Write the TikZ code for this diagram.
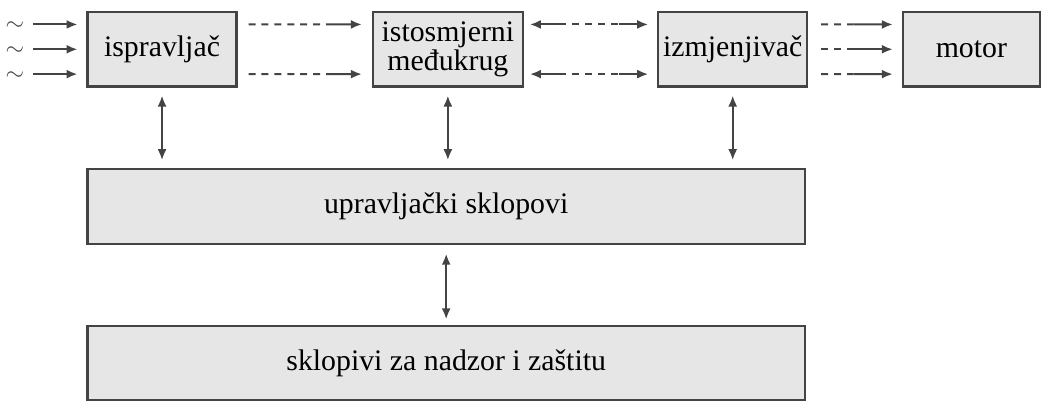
\documentclass[tikz,border=0pt]{standalone}
\usepackage{fontspec}
\setmainfont{Liberation Serif}
\usetikzlibrary{arrows.meta,positioning,calc}
\definecolor{boxgray}{HTML}{E6E6E6}
\definecolor{linegray}{HTML}{444444}
\tikzset{
    myblock/.style={rectangle, draw=linegray, fill=boxgray, line width=1.1pt, minimum height=37.5pt, inner sep=0pt, text centered, align=center, font=\fontsize{15}{13.5}\selectfont},
    myarrow/.style={-{Latex[length=5.5pt,width=4.5pt]}, line width=1pt, draw=linegray},
    mydarrow/.style={{Latex[length=5.5pt,width=4.5pt]}-{Latex[length=5.5pt,width=4.5pt]}, line width=1pt, draw=linegray},
    mydashed/.style={line width=1pt, draw=linegray, dash pattern=on 3.5pt off 3pt},
    mytilde/.style={inner sep=0pt, text height=6.5pt, text depth=0pt, text=linegray, font=\fontsize{13}{13}\selectfont}
}
\begin{document}
\begin{tikzpicture}[node distance=40.5pt]
\node[myblock, minimum width=75pt] (isp) {ispravljač};
\node[myblock, minimum width=75.5pt, right=67.5pt of isp] (ist) {istosmjerni\\međukrug};
\node[myblock, minimum width=75pt, right=67pt of ist] (izm) {izmjenjivač};
\node[myblock, minimum width=69pt, right=47pt of izm] (mot) {motor};

\node[myblock, minimum width=361pt, below=40.5pt of isp.south west, anchor=north west] (upr) {upravljački sklopovi};
\node[myblock, minimum width=361pt, minimum height=37pt, below=40.5pt of upr] (nad) {sklopivi za nadzor i zaštitu};

\useasboundingbox ([shift={(-43.5pt,5.5pt)}]isp.north west) rectangle ++(520.5pt,-199pt);

% ulazi
\foreach \dy [count=\i] in {12.5pt,0pt,-12.5pt} {
  \node[mytilde] (in\i) at ([xshift=-36pt,yshift=\dy]isp.west) {$\sim$};
  \draw[myarrow, shorten <=9pt, shorten >=4.5pt] (in\i.center) -- (in\i.center -| isp.west);
}

% ispravljac -> medukrug
\foreach \dy in {12.5pt,-12.5pt} {
  \coordinate (pa) at ([xshift=5.5pt,yshift=\dy]isp.east);
  \coordinate (pb) at ([xshift=-5pt,yshift=\dy]ist.west);
  \draw[mydashed] (pa) -- ($(pa)!0.7!(pb)$);
  \draw[myarrow] ($(pa)!0.7!(pb)$) -- (pb);
}

% medukrug <-> izmjenjivac
\foreach \dy in {12.5pt,-12.5pt} {
  \coordinate (pa) at ([xshift=3pt,yshift=\dy]ist.east);
  \coordinate (pb) at ([xshift=-4.5pt,yshift=\dy]izm.west);
  \draw[myarrow] ($(pa)!0.25!(pb)$) -- (pa);
  \draw[mydashed] ($(pa)!0.25!(pb)$) -- ($(pa)!0.75!(pb)$);
  \draw[myarrow] ($(pa)!0.75!(pb)$) -- (pb);
}

% izmjenjivac -> motor
\foreach \dy in {12.5pt,0pt,-12.5pt} {
  \coordinate (pa) at ([xshift=6.5pt,yshift=\dy]izm.east);
  \coordinate (pb) at ([xshift=-4.5pt,yshift=\dy]mot.west);
  \draw[mydashed] (pa) -- ($(pa)!0.45!(pb)$);
  \draw[myarrow] ($(pa)!0.45!(pb)$) -- (pb);
}

% upravljanje
\draw[mydarrow, shorten <=4pt, shorten >=4pt] (isp.south) -- (isp.south |- upr.north);
\draw[mydarrow, shorten <=4pt, shorten >=4pt] (ist.south) -- (ist.south |- upr.north);
\draw[mydarrow, shorten <=4pt, shorten >=4pt] (izm.south) -- (izm.south |- upr.north);
\draw[mydarrow, shorten <=4.5pt, shorten >=3pt] (upr.south) -- (nad.north);
\end{tikzpicture}
\end{document}
